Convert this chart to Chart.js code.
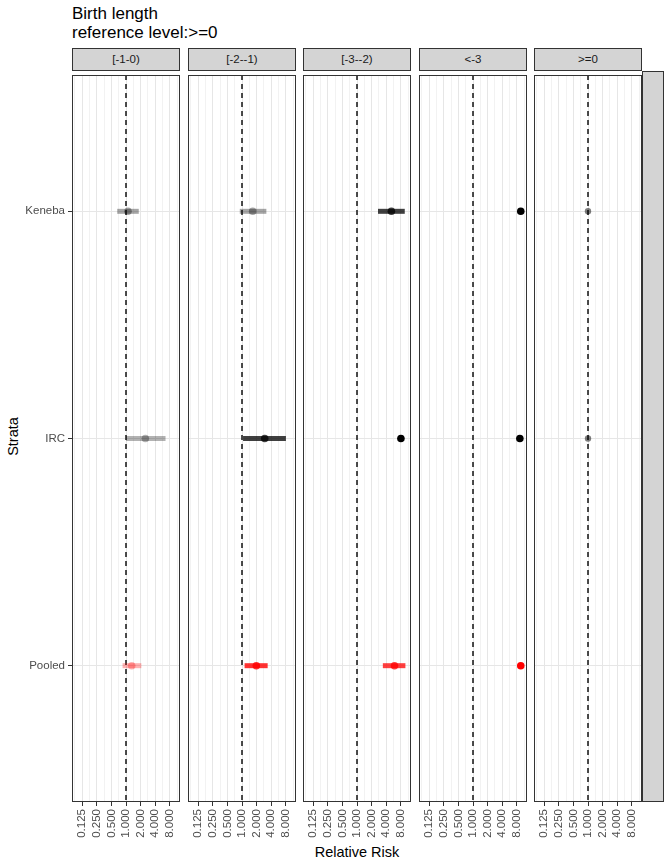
<!DOCTYPE html>
<html><head><meta charset="utf-8">
<script src="https://cdn.jsdelivr.net/npm/chart.js@4"></script>
<style>
html,body{margin:0;padding:0;background:#fff;}
body{width:672px;height:864px;position:relative;overflow:hidden;font-family:"Liberation Sans",Arial,Helvetica,sans-serif;}
#title{position:absolute;left:72px;top:4px;font-size:17px;line-height:19px;color:#000;white-space:nowrap;}
.strip{position:absolute;top:48px;height:23px;width:108px;box-sizing:border-box;background:#d4d4d4;border:1px solid #333;font-size:11.5px;color:#1a1a1a;text-align:center;line-height:21px;white-space:nowrap;}
#rstrip{position:absolute;left:642px;top:71px;width:22px;height:731px;box-sizing:border-box;background:#d4d4d4;border:1px solid #333;}
#xtitle{position:absolute;left:257px;width:200px;top:844px;text-align:center;font-size:14.5px;line-height:17px;color:#000;}
#ytitle{position:absolute;left:-87px;top:428px;width:200px;text-align:center;font-size:14.5px;line-height:17px;color:#000;transform:rotate(-90deg);}
canvas{position:absolute;}
</style>
</head><body>
<div id="title">Birth length<br>reference level:&gt;=0</div>
<div id="rstrip"></div>
<div id="xtitle">Relative Risk</div>
<div id="ytitle">Strata</div>
<script>
// ---- data ----
const panels = ['[-1-0)', '[-2--1)', '[-3--2)', '<-3', '>=0'];
const strata = ['Keneba', 'IRC', 'Pooled'];
const xTicks = [0.125, 0.25, 0.5, 1, 2, 4, 8];
const xTickLabels = ['0.125', '0.250', '0.500', '1.000', '2.000', '4.000', '8.000'];
const refLine = 1;

const rrKeneba   = [1.10, 1.66, 5.1, 9.6, 1.0];
const lowKeneba  = [0.66, 0.90, 2.7, null, null];
const highKeneba = [1.83, 3.17, 9.6, null, null];

const rrIRC   = [2.5, 2.93, 8.0, 9.2, 1.0];
const lowIRC  = [1.0, 1.05, null, null, null];
const highIRC = [6.5, 8.0, null, null, null];

const rrPooled   = [1.31, 1.97, 5.9, 9.6, null];
const lowPooled  = [0.85, 1.13, 3.4, null, null];
const highPooled = [2.07, 3.37, 9.9, null, null];

// ---- styles ----
const alphaKeneba = [0.35, 0.35, 0.75, 1, 0.5];
const alphaIRC    = [0.3, 0.75, 1, 1, 0.5];
const alphaPooled = [0.3, 0.8, 0.75, 1, 1];
const baseRGB = ['0,0,0', '0,0,0', '255,0,0'];
const radiusByPanel = [3.8, 3.8, 3.8, 3.8, 3.2];
const panelLefts = [72, 188, 303, 419, 534];
const panelW = 108, plotTop = 71, plotH = 731, M = 10;

const rr = [rrKeneba, rrIRC, rrPooled];
const lo = [lowKeneba, lowIRC, lowPooled];
const hi = [highKeneba, highIRC, highPooled];
const al = [alphaKeneba, alphaIRC, alphaPooled];

const gridTicks = [xTicks[0] / Math.SQRT2];
xTicks.forEach(t => { gridTicks.push(t); gridTicks.push(t * Math.SQRT2); });
const isMajor = v => xTicks.some(t => Math.abs(t - v) < 1e-9);

const borderPlugin = {
  id: 'panelBorder',
  afterDraw(chart) {
    const a = chart.chartArea, c = chart.ctx;
    c.save();
    c.strokeStyle = '#333';
    c.lineWidth = 1;
    c.strokeRect(a.left + 0.5, a.top + 0.5, a.right - a.left - 1, a.bottom - a.top - 1);
    c.restore();
  }
};

panels.forEach((name, p) => {
  const strip = document.createElement('div');
  strip.className = 'strip';
  strip.style.left = panelLefts[p] + 'px';
  strip.textContent = name;
  document.body.appendChild(strip);

  const first = p === 0;
  const cv = document.createElement('canvas');
  const cLeft = first ? 0 : panelLefts[p] - M;
  const cW = first ? panelLefts[p] + panelW + M : panelW + 2 * M;
  const cH = 864 - plotTop;
  cv.width = cW; cv.height = cH;
  cv.style.left = cLeft + 'px'; cv.style.top = plotTop + 'px';
  cv.style.width = cW + 'px'; cv.style.height = cH + 'px';
  document.body.appendChild(cv);

  const datasets = [];
  const pts = [], cols = [], rads = [];
  strata.forEach((s, i) => {
    if (rr[i][p] != null) {
      pts.push({ x: rr[i][p], y: i });
      cols.push('rgba(' + baseRGB[i] + ',' + al[i][p] + ')');
      rads.push(radiusByPanel[p]);
    }
  });
  datasets.push({ data: pts, pointBackgroundColor: cols, pointBorderWidth: 0, pointRadius: rads, showLine: false });
  strata.forEach((s, i) => {
    if (lo[i][p] != null && hi[i][p] != null) {
      datasets.push({
        data: [{ x: lo[i][p], y: i }, { x: hi[i][p], y: i }],
        showLine: true, borderColor: 'rgba(' + baseRGB[i] + ',' + al[i][p] + ')',
        borderWidth: 5, pointRadius: 0, borderCapStyle: 'butt'
      });
    }
  });
  datasets.push({
    data: [{ x: refLine, y: -0.6 }, { x: refLine, y: 2.6 }],
    showLine: true, borderColor: '#000', borderWidth: 1.4, borderDash: [5, 4], pointRadius: 0
  });

  new Chart(cv, {
    type: 'scatter',
    data: { datasets },
    options: {
      responsive: false, animation: false, devicePixelRatio: 1,
      layout: { padding: { left: first ? 0 : M, right: M, top: 0, bottom: 0 } },
      plugins: { legend: { display: false }, tooltip: { enabled: false } },
      scales: {
        x: {
          type: 'logarithmic', position: 'bottom', bounds: 'data',
          min: 0.0775, max: 12.9,
          afterBuildTicks: ax => { ax.ticks = gridTicks.map(v => ({ value: v })); },
          afterFit: sc => { sc.height = cH - plotH; sc.paddingLeft = 0; sc.paddingRight = 0; },
          border: { display: false },
          grid: {
            color: c => (c.tick && isMajor(c.tick.value)) ? '#e6e6e6' : '#f2f2f2',
            lineWidth: 1,
            tickLength: 4,
            tickColor: c => (c.tick && isMajor(c.tick.value)) ? '#333' : 'rgba(0,0,0,0)'
          },
          ticks: {
            autoSkip: false, minRotation: 90, maxRotation: 90, padding: 3,
            color: '#4d4d4d', font: { family: '"Liberation Sans", Arial, sans-serif', size: 11.5 },
            callback: v => { const k = xTicks.findIndex(t => Math.abs(t - v) < 1e-9); return k >= 0 ? xTickLabels[k] : ''; }
          }
        },
        y: {
          type: 'linear', min: -0.6, max: 2.6, reverse: true,
          afterBuildTicks: ax => { ax.ticks = strata.map((s, i) => ({ value: i })); },
          afterFit: sc => { sc.width = first ? panelLefts[0] : 0; sc.paddingTop = 0; sc.paddingBottom = 0; },
          border: { display: false },
          grid: { color: '#e6e6e6', lineWidth: 1, tickLength: 4, drawTicks: first, tickColor: '#333' },
          ticks: {
            display: first, autoSkip: false, padding: 3,
            color: '#4d4d4d', font: { family: '"Liberation Sans", Arial, sans-serif', size: 11.5 },
            callback: v => strata[v] !== undefined ? strata[v] : ''
          }
        }
      }
    },
    plugins: [borderPlugin]
  });
});
</script>
</body></html>
